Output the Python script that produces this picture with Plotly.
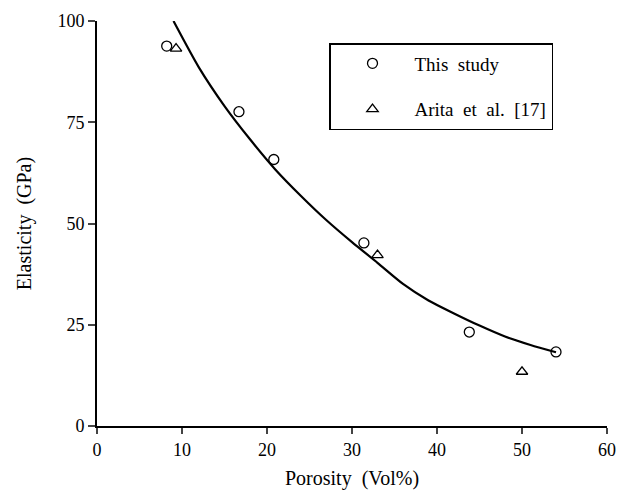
import plotly.graph_objects as go

# This study (open circles)
study_porosity = [8.2, 16.7, 20.8, 31.4, 43.8, 54.0]
study_elasticity = [93.8, 77.6, 65.8, 45.2, 23.2, 18.3]

# Arita et al. [17] (open triangles)
arita_porosity = [9.3, 33.0, 50.0]
arita_elasticity = [93.2, 42.2, 13.4]

# Fitted curve, points
curve_porosity = [9, 12, 15, 18, 21, 24, 27, 30, 33, 36, 39, 42, 45, 48, 51, 54]
curve_elasticity = [100.0, 88.5, 79.0, 70.8, 63.3, 56.8, 50.8, 45.4, 40.3, 35.1, 31.0, 27.8, 24.8, 22.1, 20.0, 18.2]

x_ticks = [0, 10, 20, 30, 40, 50, 60]
y_ticks = [0, 25, 50, 75, 100]

FONT = "Liberation Serif"

fig = go.Figure()
fig.add_trace(go.Scatter(
    x=curve_porosity, y=curve_elasticity, mode="lines",
    line=dict(color="black", width=2.2, shape="spline", smoothing=0.7),
    showlegend=False, hoverinfo="skip"))
fig.add_trace(go.Scatter(
    x=study_porosity, y=study_elasticity, mode="markers", name="This  study",
    marker=dict(symbol="circle-open", size=10, color="black", line=dict(width=1.3)),
    legendgroup="a"))
fig.add_trace(go.Scatter(
    x=arita_porosity, y=arita_elasticity, mode="markers", name="Arita  et  al.  [17]",
    marker=dict(symbol="triangle-up-open", size=10, color="black", line=dict(width=1.3)),
    legendgroup="b"))

fig.update_layout(
    width=624, height=492,
    margin=dict(l=97, r=17, t=21, b=66, autoexpand=False),
    paper_bgcolor="white", plot_bgcolor="white",
    font=dict(family=FONT, size=18, color="black"),
    showlegend=True,
    legend=dict(
        x=(329 - 97) / (607 - 97), y=1 - (43 - 21) / (426 - 21),
        xanchor="left", yanchor="top",
        bordercolor="black", borderwidth=1.5, bgcolor="white",
        font=dict(family=FONT, size=19),
        tracegroupgap=18, itemwidth=74,
    ),
    xaxis=dict(
        range=[0, 60], tickvals=x_ticks, ticks="outside", ticklen=6, tickwidth=1.5,
        showline=True, linecolor="black", linewidth=2, showgrid=False, zeroline=False,
        tickfont=dict(family=FONT, size=18),
        title=dict(text="Porosity  (Vol%)", font=dict(family=FONT, size=20), standoff=12),
        automargin=False,
    ),
    yaxis=dict(
        range=[0, 100], tickvals=y_ticks, ticks="outside", ticklen=7, tickwidth=1.5,
        showline=True, linecolor="black", linewidth=2, showgrid=False, zeroline=False,
        tickfont=dict(family=FONT, size=18),
        title=dict(text="Elasticity  (GPa)", font=dict(family=FONT, size=20), standoff=20),
        automargin=False,
    ),
)

fig.write_html("out.html")
